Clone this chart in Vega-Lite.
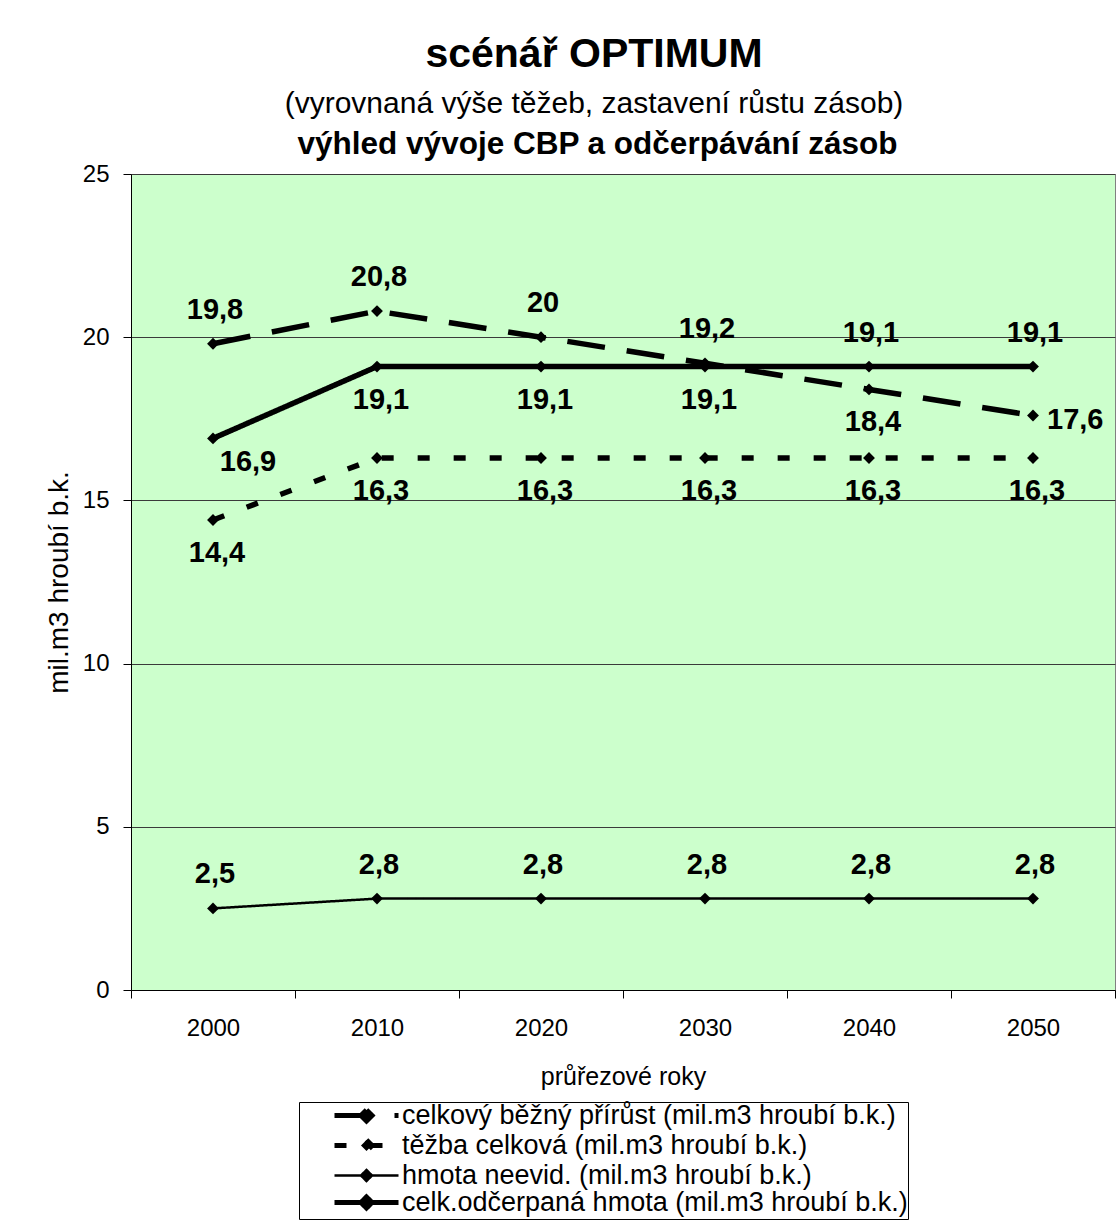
{
  "$schema": "https://vega.github.io/schema/vega-lite/v6.json",
  "width": 984,
  "height": 816,
  "autosize": {"type": "none"},
  "padding": {"left": 131, "top": 174, "right": 4, "bottom": 232},
  "background": "white",
  "title": {
    "text": "scénář OPTIMUM",
    "subtitle": "(vyrovnaná výše těžeb, zastavení růstu zásob)",
    "anchor": "middle",
    "frame": "group",
    "dx": -29,
    "offset": 8,
    "font": "Liberation Sans",
    "fontSize": 41,
    "fontWeight": "bold",
    "color": "black",
    "subtitleFont": "Liberation Sans",
    "subtitleFontSize": 30,
    "subtitleColor": "black",
    "subtitlePadding": 13
  },
  "config": {
    "font": "Liberation Sans",
    "view": {"fill": "#CCFFCC", "stroke": "#808080", "strokeWidth": 1},
    "axis": {
      "labelColor": "black",
      "titleColor": "black",
      "tickColor": "black",
      "domainColor": "black",
      "labelFont": "Liberation Sans",
      "titleFont": "Liberation Sans"
    },
    "locale": {
      "number": {
        "decimal": ",",
        "thousands": " ",
        "grouping": [3],
        "currency": ["", " Kč"]
      }
    }
  },
  "data": {
    "values": [
      {"rok": "2000", "rada": "celkový běžný přírůst (mil.m3 hroubí b.k.)", "hodnota": 19.8},
      {"rok": "2010", "rada": "celkový běžný přírůst (mil.m3 hroubí b.k.)", "hodnota": 20.8},
      {"rok": "2020", "rada": "celkový běžný přírůst (mil.m3 hroubí b.k.)", "hodnota": 20},
      {"rok": "2030", "rada": "celkový běžný přírůst (mil.m3 hroubí b.k.)", "hodnota": 19.2},
      {"rok": "2040", "rada": "celkový běžný přírůst (mil.m3 hroubí b.k.)", "hodnota": 18.4},
      {"rok": "2050", "rada": "celkový běžný přírůst (mil.m3 hroubí b.k.)", "hodnota": 17.6},
      {"rok": "2000", "rada": "těžba celková (mil.m3 hroubí b.k.)", "hodnota": 14.4},
      {"rok": "2010", "rada": "těžba celková (mil.m3 hroubí b.k.)", "hodnota": 16.3},
      {"rok": "2020", "rada": "těžba celková (mil.m3 hroubí b.k.)", "hodnota": 16.3},
      {"rok": "2030", "rada": "těžba celková (mil.m3 hroubí b.k.)", "hodnota": 16.3},
      {"rok": "2040", "rada": "těžba celková (mil.m3 hroubí b.k.)", "hodnota": 16.3},
      {"rok": "2050", "rada": "těžba celková (mil.m3 hroubí b.k.)", "hodnota": 16.3},
      {"rok": "2000", "rada": "hmota neevid. (mil.m3 hroubí b.k.)", "hodnota": 2.5},
      {"rok": "2010", "rada": "hmota neevid. (mil.m3 hroubí b.k.)", "hodnota": 2.8},
      {"rok": "2020", "rada": "hmota neevid. (mil.m3 hroubí b.k.)", "hodnota": 2.8},
      {"rok": "2030", "rada": "hmota neevid. (mil.m3 hroubí b.k.)", "hodnota": 2.8},
      {"rok": "2040", "rada": "hmota neevid. (mil.m3 hroubí b.k.)", "hodnota": 2.8},
      {"rok": "2050", "rada": "hmota neevid. (mil.m3 hroubí b.k.)", "hodnota": 2.8},
      {"rok": "2000", "rada": "celk.odčerpaná hmota (mil.m3 hroubí b.k.)", "hodnota": 16.9},
      {"rok": "2010", "rada": "celk.odčerpaná hmota (mil.m3 hroubí b.k.)", "hodnota": 19.1},
      {"rok": "2020", "rada": "celk.odčerpaná hmota (mil.m3 hroubí b.k.)", "hodnota": 19.1},
      {"rok": "2030", "rada": "celk.odčerpaná hmota (mil.m3 hroubí b.k.)", "hodnota": 19.1},
      {"rok": "2040", "rada": "celk.odčerpaná hmota (mil.m3 hroubí b.k.)", "hodnota": 19.1},
      {"rok": "2050", "rada": "celk.odčerpaná hmota (mil.m3 hroubí b.k.)", "hodnota": 19.1}
    ]
  },
  "layer": [
    {
      "mark": {"type": "line", "color": "black", "strokeCap": "butt", "strokeJoin": "miter"},
      "encoding": {
        "x": {
          "field": "rok",
          "type": "ordinal",
          "scale": {"type": "band", "paddingInner": 0, "paddingOuter": 0},
          "axis": {
            "orient": "bottom",
            "title": "průřezové roky",
            "labelAngle": 0,
            "tickBand": "extent",
            "tickSize": 8,
            "labelFontSize": 24,
            "labelPadding": 18,
            "titleFontSize": 25,
            "titleFontWeight": "normal",
            "titlePadding": 24,
            "grid": false
          }
        },
        "y": {
          "field": "hodnota",
          "type": "quantitative",
          "scale": {"domain": [0, 25], "nice": false, "zero": true},
          "axis": {
            "title": "mil.m3 hroubí b.k.",
            "values": [0, 5, 10, 15, 20, 25],
            "grid": true,
            "gridColor": "#3a3a3a",
            "gridWidth": 1,
            "tickSize": 8,
            "labelFontSize": 24,
            "labelPadding": 14,
            "titleFontSize": 28,
            "titleFontWeight": "normal",
            "titlePadding": 9
          }
        },
        "strokeDash": {
          "field": "rada",
          "type": "nominal",
          "scale": {
            "domain": [
              "celkový běžný přírůst (mil.m3 hroubí b.k.)",
              "těžba celková (mil.m3 hroubí b.k.)",
              "hmota neevid. (mil.m3 hroubí b.k.)",
              "celk.odčerpaná hmota (mil.m3 hroubí b.k.)"
            ],
            "range": [[38, 22], [12, 24], [1, 0], [1, 0]]
          },
          "legend": {
            "orient": "none",
            "legendX": 168,
            "legendY": 928,
            "title": null,
            "direction": "vertical",
            "symbolType": "M-4,0H4M0,-0.69L0.69,0L0,0.69L-0.69,0Z",
            "symbolSize": 256,
            "symbolStrokeColor": "black",
            "symbolFillColor": "black",
            "symbolStrokeWidth": 5,
            "labelFontSize": 27,
            "labelColor": "black",
            "labelLimit": 0,
            "strokeColor": "black",
            "fillColor": "white",
            "padding": 0,
            "rowPadding": -3,
            "symbolOffset": 54,
            "labelOffset": 22,
            "encode": {
              "symbols": {
                "update": {
                  "fill": {"value": "black"},
                  "stroke": {"value": "black"},
                  "strokeDash": {"scale": "strokeDash", "field": "value"},
                  "strokeWidth": {"signal": "datum.value === 'hmota neevid. (mil.m3 hroubí b.k.)' ? 2.5 : 5"}
                }
              }
            }
          }
        },
        "strokeWidth": {
          "condition": {"test": "datum.rada === 'hmota neevid. (mil.m3 hroubí b.k.)'", "value": 2.5},
          "value": 5.5
        }
      }
    },
    {
      "mark": {"type": "point", "shape": "diamond", "filled": true, "size": 140, "color": "black", "opacity": 1},
      "encoding": {
        "x": {
          "field": "rok",
          "type": "ordinal",
          "axis": {
            "orient": "top",
            "title": "výhled vývoje CBP a odčerpávání zásob",
            "titleFontSize": 31.5,
            "titleFontWeight": "bold",
            "titleX": 466,
            "titlePadding": 14,
            "labels": false,
            "ticks": false,
            "domain": false,
            "grid": false
          }
        },
        "y": {"field": "hodnota", "type": "quantitative"},
        "detail": {"field": "rada", "type": "nominal"}
      }
    },
    {
      "transform": [
        {"filter": "(datum.rada === 'celkový běžný přírůst (mil.m3 hroubí b.k.)' && toNumber(datum.rok) <= 2030) || (datum.rada === 'celk.odčerpaná hmota (mil.m3 hroubí b.k.)' && toNumber(datum.rok) >= 2040) || datum.rada === 'hmota neevid. (mil.m3 hroubí b.k.)'"}
      ],
      "mark": {"type": "text", "fontSize": 29, "fontWeight": "bold", "color": "black", "baseline": "middle", "align": "center", "dx": 2, "dy": -34},
      "encoding": {
        "x": {"field": "rok", "type": "ordinal", "axis": null},
        "y": {"field": "hodnota", "type": "quantitative"},
        "text": {"field": "hodnota", "type": "quantitative", "format": ".1~f"}
      }
    },
    {
      "transform": [
        {"filter": "(datum.rada === 'celk.odčerpaná hmota (mil.m3 hroubí b.k.)' && toNumber(datum.rok) >= 2010 && toNumber(datum.rok) <= 2030) || datum.rada === 'těžba celková (mil.m3 hroubí b.k.)' || (datum.rada === 'celkový běžný přírůst (mil.m3 hroubí b.k.)' && datum.rok === '2040')"}
      ],
      "mark": {"type": "text", "fontSize": 29, "fontWeight": "bold", "color": "black", "baseline": "middle", "align": "center", "dx": 4, "dy": 33},
      "encoding": {
        "x": {"field": "rok", "type": "ordinal", "axis": null},
        "y": {"field": "hodnota", "type": "quantitative"},
        "text": {"field": "hodnota", "type": "quantitative", "format": ".1~f"}
      }
    },
    {
      "transform": [
        {"filter": "datum.rada === 'celk.odčerpaná hmota (mil.m3 hroubí b.k.)' && datum.rok === '2000'"}
      ],
      "mark": {"type": "text", "fontSize": 29, "fontWeight": "bold", "color": "black", "baseline": "middle", "align": "center", "dx": 35, "dy": 24},
      "encoding": {
        "x": {"field": "rok", "type": "ordinal", "axis": null},
        "y": {"field": "hodnota", "type": "quantitative"},
        "text": {"field": "hodnota", "type": "quantitative", "format": ".1~f"}
      }
    },
    {
      "transform": [
        {"filter": "datum.rada === 'celkový běžný přírůst (mil.m3 hroubí b.k.)' && datum.rok === '2050'"}
      ],
      "mark": {"type": "text", "fontSize": 29, "fontWeight": "bold", "color": "black", "baseline": "middle", "align": "left", "dx": 14, "dy": 4},
      "encoding": {
        "x": {"field": "rok", "type": "ordinal", "axis": null},
        "y": {"field": "hodnota", "type": "quantitative"},
        "text": {"field": "hodnota", "type": "quantitative", "format": ".1~f"}
      }
    }
  ],
  "resolve": {"axis": {"x": "independent"}}
}
